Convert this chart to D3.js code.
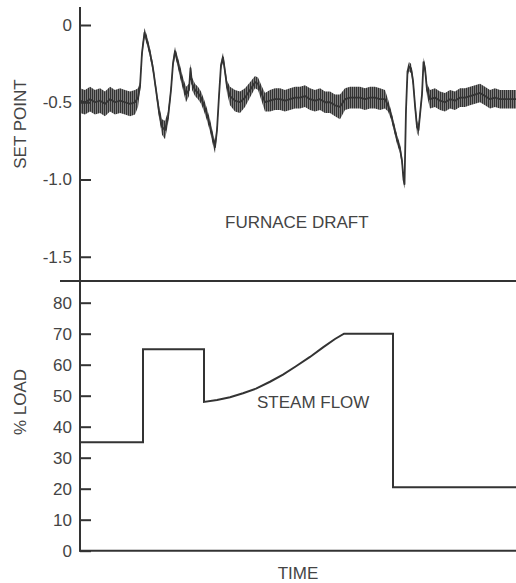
<!DOCTYPE html>
<html>
<head>
<meta charset="utf-8">
<script src="https://cdn.jsdelivr.net/npm/d3@7"></script>
<style>
  body { margin: 0; background: #fff; }
  svg { display: block; font-family: "Liberation Sans", Arial, sans-serif; }
</style>
</head>
<body>
<svg id="chart" width="516" height="583"></svg>
<script>
// furnace draft trace (time units, mid value, half-width of the jitter band)
const draftTime = [0, 2.5, 5, 7.5, 10, 12.5, 15, 17.5, 20, 22.5, 25, 27.5, 29, 30, 31, 32.25, 33.5, 35, 36.5, 38, 39.5, 41, 42.5, 44, 45.5, 46.5, 47.5, 48.5, 50, 51.5, 53, 54.5, 55.25, 56, 57.5, 59, 60.5, 62, 63.5, 65, 66.5, 67.5, 68.5, 69.5, 70.5, 71.5, 72.5, 73.5, 75, 77.5, 80, 82.5, 85, 87.5, 89, 91, 92.5, 95, 97.5, 100, 102.5, 105, 107.5, 110, 112.5, 115, 117.5, 120, 122.5, 125, 127.5, 130, 132.5, 135, 137.5, 140, 142.5, 145, 147.5, 150, 152.5, 154, 155.5, 157, 158.5, 160, 161, 161.75, 162.25, 163, 163.75, 164.5, 165.5, 166.5, 167.5, 168.5, 169.25, 170, 171, 171.75, 172.5, 173.5, 175, 177.5, 180, 182.5, 185, 187.5, 190, 192.5, 195, 197.5, 200, 202.5, 205, 207.5, 210, 212.5, 215, 218];
const draftMid = [-0.49, -0.50, -0.48, -0.50, -0.49, -0.51, -0.48, -0.50, -0.49, -0.50, -0.51, -0.50, -0.47, -0.40, -0.18, -0.05, -0.10, -0.18, -0.28, -0.42, -0.56, -0.66, -0.68, -0.60, -0.42, -0.25, -0.17, -0.22, -0.30, -0.38, -0.45, -0.42, -0.28, -0.38, -0.42, -0.44, -0.47, -0.52, -0.58, -0.65, -0.74, -0.79, -0.68, -0.46, -0.26, -0.21, -0.30, -0.40, -0.46, -0.49, -0.50, -0.47, -0.42, -0.37, -0.38, -0.45, -0.50, -0.49, -0.48, -0.48, -0.49, -0.48, -0.47, -0.47, -0.46, -0.48, -0.49, -0.48, -0.50, -0.50, -0.52, -0.53, -0.48, -0.47, -0.47, -0.47, -0.48, -0.47, -0.47, -0.48, -0.48, -0.52, -0.58, -0.66, -0.74, -0.80, -0.88, -1.00, -1.03, -0.55, -0.30, -0.27, -0.28, -0.36, -0.52, -0.66, -0.68, -0.58, -0.45, -0.24, -0.28, -0.42, -0.48, -0.47, -0.49, -0.50, -0.48, -0.49, -0.47, -0.47, -0.46, -0.45, -0.44, -0.46, -0.48, -0.47, -0.48, -0.48, -0.48, -0.48];
const draftSpread = [0.08, 0.08, 0.08, 0.08, 0.08, 0.08, 0.08, 0.08, 0.08, 0.08, 0.08, 0.08, 0.06, 0.03, 0.03, 0.03, 0.03, 0.03, 0.03, 0.03, 0.04, 0.05, 0.06, 0.04, 0.03, 0.03, 0.03, 0.03, 0.04, 0.04, 0.05, 0.04, 0.03, 0.04, 0.04, 0.04, 0.04, 0.04, 0.04, 0.04, 0.04, 0.04, 0.03, 0.03, 0.03, 0.03, 0.03, 0.04, 0.06, 0.07, 0.07, 0.06, 0.05, 0.04, 0.04, 0.05, 0.06, 0.07, 0.07, 0.07, 0.07, 0.07, 0.07, 0.07, 0.07, 0.07, 0.07, 0.07, 0.07, 0.07, 0.07, 0.08, 0.07, 0.07, 0.07, 0.07, 0.07, 0.07, 0.07, 0.07, 0.06, 0.04, 0.03, 0.03, 0.03, 0.03, 0.03, 0.03, 0.03, 0.03, 0.03, 0.03, 0.03, 0.03, 0.04, 0.04, 0.04, 0.03, 0.03, 0.03, 0.03, 0.04, 0.06, 0.06, 0.06, 0.06, 0.06, 0.06, 0.06, 0.06, 0.06, 0.06, 0.06, 0.06, 0.06, 0.06, 0.06, 0.06, 0.06, 0.06];

// steam flow (% load)
const steamTime = [0, 31.5, 31.5, 62, 62, 68.5, 75, 81.5, 88, 95, 101.5, 108, 115, 121.5, 127.5, 132, 156.5, 156.5, 218];
const steamLoad = [35, 35, 65, 65, 48, 48.6, 49.5, 50.8, 52.3, 54.5, 56.8, 59.5, 62.5, 65.6, 68.3, 70, 70, 20.5, 20.5];

const draftTicks = [0, -0.5, -1.0, -1.5];
const loadTicks = [0, 10, 20, 30, 40, 50, 60, 70, 80];

const ink = "#333";
const textInk = "#444";
const fontSize = 17;

const svg = d3.select("#chart");

const x = d3.scaleLinear().domain([0, 218]).range([80, 516]);
const yTop = d3.scaleLinear().domain([0, -1.5]).range([25, 256.75]);
const yBot = d3.scaleLinear().domain([0, 80]).range([550.7, 302.7]);

// vertical hatch to mimic the jitter of the recorder pen
const defs = svg.append("defs");
const pat = defs.append("pattern")
    .attr("id", "jitter")
    .attr("patternUnits", "userSpaceOnUse")
    .attr("width", 2)
    .attr("height", 6);
pat.append("rect").attr("width", 2).attr("height", 6).attr("fill", "#7e7e7e");
pat.append("line")
    .attr("x1", 0.5).attr("x2", 0.5).attr("y1", 0).attr("y2", 6)
    .attr("stroke", "#333").attr("stroke-width", 1);

const draftRows = draftTime.map((t, i) => ({ t: t, v: draftMid[i], s: draftSpread[i] }));

svg.append("path")
    .datum(draftRows)
    .attr("fill", "url(#jitter)")
    .attr("d", d3.area()
        .x(d => x(d.t))
        .y0(d => yTop(d.v - d.s))
        .y1(d => yTop(d.v + d.s)));

svg.append("path")
    .datum(draftRows)
    .attr("fill", "none")
    .attr("stroke", ink)
    .attr("stroke-width", 1.8)
    .attr("stroke-linejoin", "round")
    .attr("d", d3.line().x(d => x(d.t)).y(d => yTop(d.v)));

// steam flow trace
const steamRows = steamTime.map((t, i) => ({ t: t, v: steamLoad[i] }));
svg.append("path")
    .datum(steamRows)
    .attr("fill", "none")
    .attr("stroke", ink)
    .attr("stroke-width", 2)
    .attr("d", d3.line().x(d => x(d.t)).y(d => yBot(d.v)));

// axes
const fmtDraft = v => v === 0 ? "0" : v.toFixed(1);

const topAxis = svg.append("g")
    .attr("transform", "translate(80,0)")
    .call(d3.axisLeft(yTop).tickValues(draftTicks).tickFormat(fmtDraft)
        .tickSizeInner(-11).tickSizeOuter(0).tickPadding(8));

const botAxis = svg.append("g")
    .attr("transform", "translate(80,0)")
    .call(d3.axisLeft(yBot).tickValues(loadTicks)
        .tickSizeInner(-11).tickSizeOuter(0).tickPadding(8));

[topAxis, botAxis].forEach(g => {
    g.select(".domain").remove();
    g.selectAll(".tick line").attr("stroke", ink).attr("stroke-width", 2);
    g.selectAll(".tick text")
        .attr("fill", textInk)
        .attr("font-size", fontSize)
        .attr("font-family", "Liberation Sans, Arial, sans-serif");
});

// frame lines
svg.append("line")
    .attr("x1", 80).attr("x2", 80).attr("y1", 7).attr("y2", 551.5)
    .attr("stroke", ink).attr("stroke-width", 2);
svg.append("line")
    .attr("x1", 60).attr("x2", 516).attr("y1", 281).attr("y2", 281)
    .attr("stroke", ink).attr("stroke-width", 2.2);
svg.append("line")
    .attr("x1", 79).attr("x2", 516).attr("y1", yBot(0)).attr("y2", yBot(0))
    .attr("stroke", ink).attr("stroke-width", 2);

// labels
const label = (txt, px, py, rot, anchor) => {
    svg.append("text")
        .attr("transform", `translate(${px},${py}) rotate(${rot})`)
        .attr("text-anchor", anchor)
        .attr("fill", textInk)
        .attr("font-size", fontSize)
        .text(txt);
};

label("SET POINT", 26, 124, -90, "middle");
label("% LOAD", 26, 402, -90, "middle");
label("TIME", 298, 579, 0, "middle");
label("FURNACE DRAFT", x(72.5), 228, 0, "start");
label("STEAM FLOW", x(88.5), 408, 0, "start");
</script>
</body>
</html>
